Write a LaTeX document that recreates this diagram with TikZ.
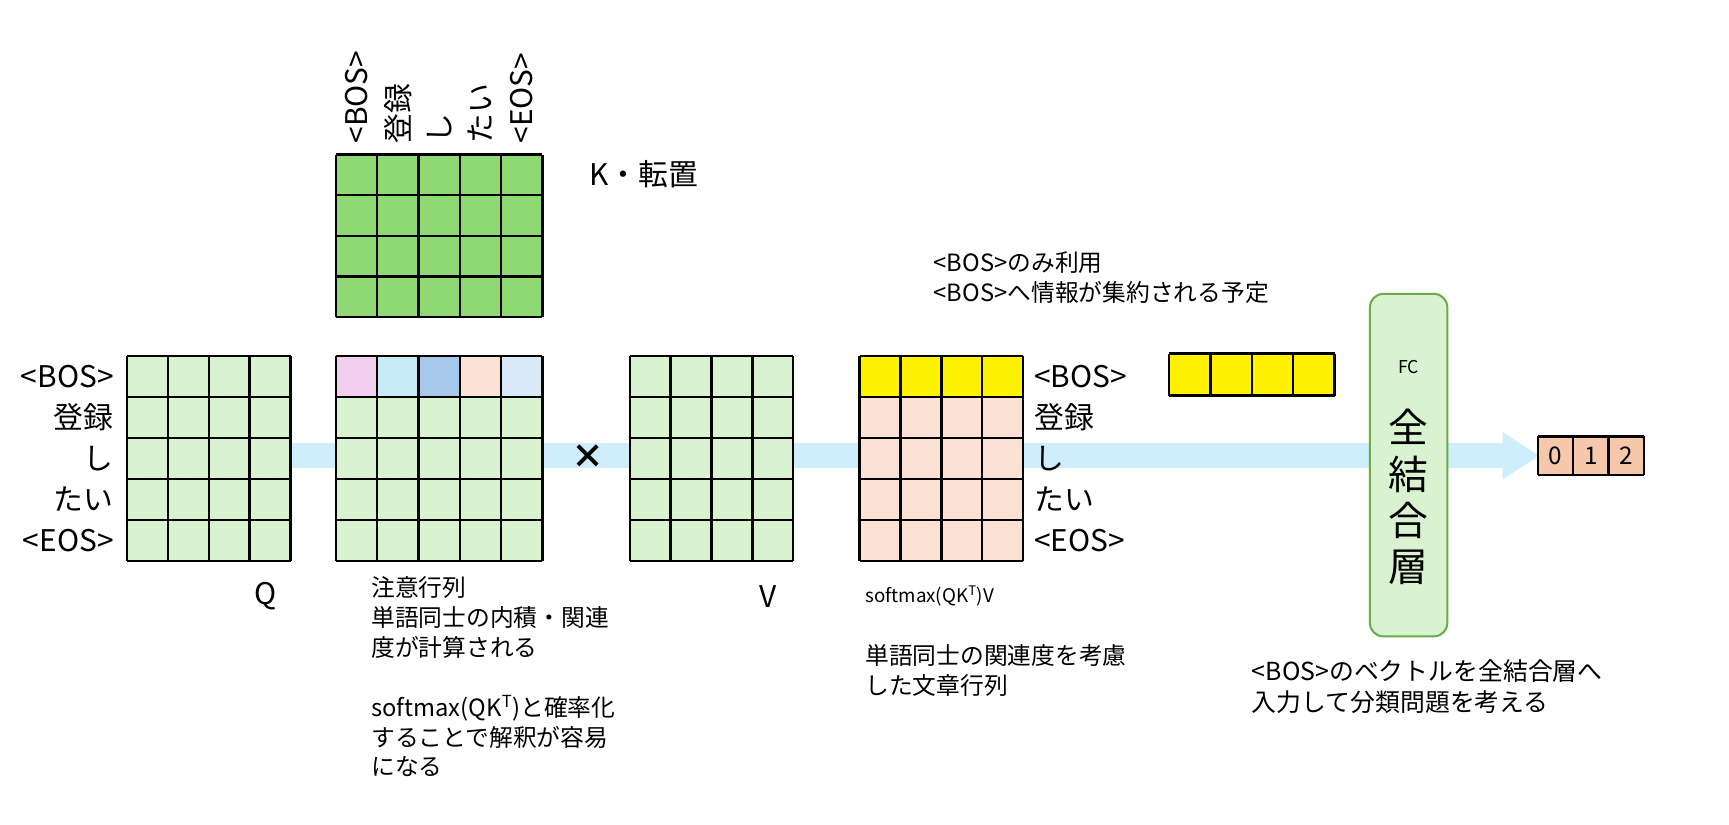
\documentclass[tikz,border=0pt]{standalone}
\usepackage{fontspec}
\setmainfont{Noto Sans CJK JP}
\begin{document}
\begin{tikzpicture}[x=1pt,y=-1pt,
  lbl/.style={font=\fontsize{27}{30}\selectfont,inner sep=0pt},
  txt/.style={font=\fontsize{21.5}{27}\selectfont,inner sep=0pt,align=left,anchor=north west},
  gl/.style={line width=2.2pt,black}]
\definecolor{lg}{HTML}{D9F2D0}
\definecolor{kg}{HTML}{8ED973}
\definecolor{pk}{HTML}{F2CEEF}
\definecolor{lb}{HTML}{C6ECF8}
\definecolor{bl}{HTML}{A6C8EA}
\definecolor{pe}{HTML}{FBE2D5}
\definecolor{pb}{HTML}{DAE9F8}
\definecolor{op}{HTML}{F7C7AC}
\definecolor{band}{HTML}{CDEEFA}
\definecolor{fcg}{HTML}{6AAB4A}
\useasboundingbox (0,0) rectangle (1565,746);
\newcommand\mgrid[7]{% x y cols rows cw ch fill
  \fill[#7] (#1,#2) rectangle ({#1+#3*#5},{#2+#4*#6});
  \foreach \i in {0,...,#3}{\draw[gl] ({#1+\i*#5},#2) -- ({#1+\i*#5},{#2+#4*#6});}
  \foreach \j in {0,...,#4}{\draw[gl] (#1,{#2+\j*#6}) -- ({#1+#3*#5},{#2+\j*#6});}
}
% band arrow
\fill[band] (263,401) rectangle (1362,424);
\fill[band] (1360,391) -- (1393,412.5) -- (1360,434) -- cycle;
% Q
\mgrid{115}{322}{4}{5}{37}{37.2}{lg}
\foreach \t [count=\k from 0] in {<BOS>,登録,し,たい,<EOS>}
  \node[lbl,anchor=east] (ql\k) at (103,{340.6+\k*37.2}) {\t};
\node[lbl] (qname) at (240,540) {Q};
% K
\mgrid{304}{140}{5}{4}{37.4}{36.75}{kg}
\foreach \t [count=\k from 0] in {<BOS>,登録,し,たい,<EOS>}
  \node[lbl,rotate=90,anchor=west] (kl\k) at ({322.7+\k*37.4},130) {\t};
\node[lbl,anchor=west] (kname) at (533,158) {K・転置};
% attention
\mgrid{304}{322}{5}{5}{37.4}{37.2}{lg}
\foreach \c [count=\k from 0] in {pk,lb,bl,pe,pb}
  \fill[\c] ({304+\k*37.4},322) rectangle ({304+(\k+1)*37.4},359.2);
\foreach \i in {0,...,5}{\draw[gl] ({304+\i*37.4},322) -- ({304+\i*37.4},359.2);}
\draw[gl] (304,322) -- (491,322) (304,359.2) -- (491,359.2);
\node[txt] (atxt) at (336,522) {注意行列\\単語同士の内積・関連\\度が計算される\\[27pt]softmax(QK\textsuperscript{T})と確率化\\することで解釈が容易\\になる};
% times
\node[font=\fontsize{30}{30}\selectfont\bfseries,inner sep=0pt] (times) at (532,413) {×};
% V
\mgrid{570}{322}{4}{5}{37}{37.2}{lg}
\node[lbl] (vname) at (695,540) {V};
% result
\mgrid{778}{322}{4}{5}{37}{37.2}{pe}
\fill[yellow] (778,322) rectangle (926,359.2);
\foreach \i in {0,...,4}{\draw[gl] ({778+\i*37},322) -- ({778+\i*37},359.2);}
\draw[gl] (778,322) -- (926,322) (778,359.2) -- (926,359.2);
\foreach \t [count=\k from 0] in {<BOS>,登録,し,たい,<EOS>}
  \node[lbl,anchor=west] (rl\k) at (936,{340.6+\k*37.2}) {\t};
\node[txt,font=\fontsize{17}{20}\selectfont] (rtxt1) at (783,530) {softmax(QK\textsuperscript{T})V};
\node[txt] (rtxt2) at (783,583) {単語同士の関連度を考慮\\した文章行列};
\node[txt] (btxt) at (845,228) {<BOS>のみ利用\\<BOS>へ情報が集約される予定};
% yellow vector
\mgrid{1058}{320}{4}{1}{37.5}{38}{yellow}
% FC
\node[draw=fcg,line width=1.8pt,fill=lg,rounded corners=12pt,minimum width=70pt,minimum height=310pt,inner sep=0pt] (fc) at (1275,421) {};
\node[font=\fontsize{16}{16}\selectfont,inner sep=0pt] (fct) at (1275,332) {FC};
\node[font=\fontsize{36}{42}\selectfont,inner sep=0pt,align=center] (fcj) at (1275,450) {全\\結\\合\\層};
% output
\mgrid{1392}{395}{3}{1}{32}{35}{op}
\foreach \t [count=\k from 0] in {0,1,2}
  \node[lbl,font=\fontsize{22}{22}\selectfont] (o\k) at ({1408+\k*32},412.5) {\t};
\node[txt,font=\fontsize{22.5}{28}\selectfont] (ftxt) at (1133,597) {<BOS>のベクトルを全結合層へ\\入力して分類問題を考える};
\end{tikzpicture}
\end{document}
